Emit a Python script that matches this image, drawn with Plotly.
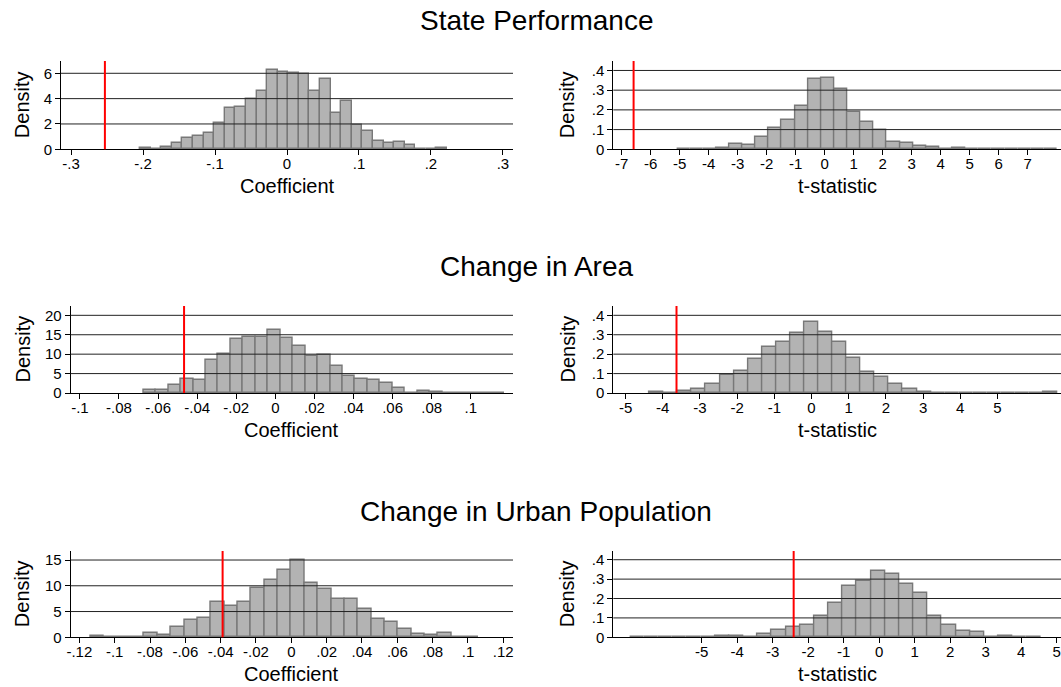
import plotly.graph_objects as go

W, H = 1061, 687

# ---------------- data ----------------
titles = ["State Performance", "Change in Area", "Change in Urban Population"]
x_titles = ["Coefficient", "t-statistic"]
y_title = "Density"

# Panel 1: State Performance, coefficient
p1_start, p1_width = -0.204, 0.0147
p1_dens = [0.08, 0, 0.2, 0.5, 0.9, 1.07, 1.28, 2.05, 3.28, 3.36, 4.0, 4.59, 6.24, 6.08,
           6.0, 5.95, 4.64, 5.52, 2.85, 3.84, 1.95, 1.41, 0.69, 0.48, 0.56, 0.32, 0, 0, 0.08]
p1_obs = -0.253
p1_xticks = [-0.3, -0.2, -0.1, 0, 0.1, 0.2, 0.3]
p1_xlabels = ["-.3", "-.2", "-.1", "0", ".1", ".2", ".3"]
p1_yticks = [0, 2, 4, 6]
p1_ylabels = ["0", "2", "4", "6"]

# Panel 2: State Performance, t-statistic
p2_start, p2_width = -5.10, 0.4525
p2_dens = [0.003, 0.003, 0.003, 0.005, 0.026, 0.021, 0.062, 0.108, 0.149, 0.221, 0.356,
           0.364, 0.308, 0.190, 0.138, 0.097, 0.036, 0.034, 0.015, 0.010, 0.003, 0.005,
           0.002, 0, 0, 0, 0, 0, 0.003]
p2_obs = -6.59
p2_xticks = [-7, -6, -5, -4, -3, -2, -1, 0, 1, 2, 3, 4, 5, 6, 7]
p2_xlabels = [str(v) for v in p2_xticks]
p2_yticks = [0, 0.1, 0.2, 0.3, 0.4]
p2_ylabels = ["0", ".1", ".2", ".3", ".4"]

# Panel 3: Change in Area, coefficient
p3_start, p3_width = -0.0675, 0.006373
p3_dens = [0.77, 0.69, 2.15, 3.5, 3.26, 8.4, 9.96, 13.8, 14.3, 14.3, 16.3, 14.25, 12.0,
           9.6, 9.7, 6.87, 4.29, 3.52, 3.26, 2.49, 1.37, 0, 0.4, 0.15, 0.1, 0.05, 0.05,
           0.1, 0.1]
p3_obs = -0.0467
p3_xticks = [-0.1, -0.08, -0.06, -0.04, -0.02, 0, 0.02, 0.04, 0.06, 0.08, 0.1]
p3_xlabels = ["-.1", "-.08", "-.06", "-.04", "-.02", "0", ".02", ".04", ".06", ".08", ".1"]
p3_yticks = [0, 5, 10, 15, 20]
p3_ylabels = ["0", "5", "10", "15", "20"]

# Panel 4: Change in Area, t-statistic
p4_start, p4_width = -4.358, 0.3785
p4_dens = [0.005, 0, 0.009, 0.019, 0.045, 0.093, 0.113, 0.175, 0.235, 0.261, 0.307,
           0.366, 0.312, 0.261, 0.179, 0.108, 0.081, 0.045, 0.019, 0.003, 0.002, 0.002,
           0.002, 0, 0, 0, 0, 0, 0.003]
p4_obs = -3.63
p4_xticks = [-5, -4, -3, -2, -1, 0, 1, 2, 3, 4, 5]
p4_xlabels = [str(v) for v in p4_xticks]
p4_yticks = [0, 0.1, 0.2, 0.3, 0.4]
p4_ylabels = ["0", ".1", ".2", ".3", ".4"]

# Panel 5: Change in Urban Population, coefficient
p5_start, p5_width = -0.1136, 0.007566
p5_dens = [0.2, 0, 0, 0, 0.78, 0.52, 2.07, 3.3, 3.68, 6.92, 6.0, 6.85, 9.63, 11.05, 13.12,
           14.93, 10.47, 9.44, 7.37, 7.37, 5.43, 3.62, 2.91, 1.68, 0.65, 0.45, 0.78, 0, 0.06]
p5_obs = -0.0389
p5_xticks = [-0.12, -0.1, -0.08, -0.06, -0.04, -0.02, 0, 0.02, 0.04, 0.06, 0.08, 0.1, 0.12]
p5_xlabels = ["-.12", "-.1", "-.08", "-.06", "-.04", "-.02", "0", ".02", ".04", ".06",
              ".08", ".1", ".12"]
p5_yticks = [0, 5, 10, 15]
p5_ylabels = ["0", "5", "10", "15"]

# Panel 6: Change in Urban Population, t-statistic
p6_start, p6_width = -7.02, 0.399
p6_dens = [0.002, 0, 0, 0.002, 0, 0, 0.005, 0.005, 0, 0.015, 0.036, 0.052, 0.062, 0.112,
           0.175, 0.263, 0.292, 0.340, 0.324, 0.276, 0.230, 0.108, 0.062, 0.031, 0.026, 0,
           0.005, 0, 0.002]
p6_obs = -2.41
p6_xticks = [-5, -4, -3, -2, -1, 0, 1, 2, 3, 4, 5]
p6_xlabels = [str(v) for v in p6_xticks]
p6_yticks = [0, 0.1, 0.2, 0.3, 0.4]
p6_ylabels = ["0", ".1", ".2", ".3", ".4"]

# ---------------- layout geometry (pixels) ----------------
panels = [
    dict(start=p1_start, width=p1_width, dens=p1_dens, obs=p1_obs, xt=p1_xticks, xl=p1_xlabels,
         yt=p1_yticks, yl=p1_ylabels, xr=[-0.314, 0.314], yr=[0, 6.97], px=(61, 513), py=(61, 149.3), xtitle=0),
    dict(start=p2_start, width=p2_width, dens=p2_dens, obs=p2_obs, xt=p2_xticks, xl=p2_xlabels,
         yt=p2_yticks, yl=p2_ylabels, xr=[-7.29, 8.15], yr=[0, 0.448], px=(613.3, 1061), py=(61, 149.3), xtitle=1),
    dict(start=p3_start, width=p3_width, dens=p3_dens, obs=p3_obs, xt=p3_xticks, xl=p3_xlabels,
         yt=p3_yticks, yl=p3_ylabels, xr=[-0.1047, 0.1216], yr=[0, 22.4], px=(70.7, 513), py=(306, 393), xtitle=0),
    dict(start=p4_start, width=p4_width, dens=p4_dens, obs=p4_obs, xt=p4_xticks, xl=p4_xlabels,
         yt=p4_yticks, yl=p4_ylabels, xr=[-5.33, 6.71], yr=[0, 0.448], px=(613.3, 1061), py=(306, 393), xtitle=1),
    dict(start=p5_start, width=p5_width, dens=p5_dens, obs=p5_obs, xt=p5_xticks, xl=p5_xlabels,
         yt=p5_yticks, yl=p5_ylabels, xr=[-0.1249, 0.1255], yr=[0, 16.75], px=(70.7, 513), py=(551, 637.3), xtitle=0),
    dict(start=p6_start, width=p6_width, dens=p6_dens, obs=p6_obs, xt=p6_xticks, xl=p6_xlabels,
         yt=p6_yticks, yl=p6_ylabels, xr=[-7.49, 5.12], yr=[0, 0.445], px=(613.3, 1061), py=(551, 637.3), xtitle=1),
]

FONT = "Liberation Sans, Arial, sans-serif"
BAR_FILL = "#b3b3b3"
BAR_EDGE = "#787878"
GRID = "#222222"

fig = go.Figure()
layout = dict(
    width=W, height=H, autosize=False, margin=dict(l=0, r=0, t=0, b=0, pad=0, autoexpand=False),
    paper_bgcolor="white", plot_bgcolor="white", showlegend=False,
    font=dict(family=FONT, color="black"), bargap=0,
)
shapes = []
annotations = []

for i, p in enumerate(panels, start=1):
    sx = "" if i == 1 else str(i)
    centers = [p["start"] + p["width"] * (k + 0.5) for k in range(len(p["dens"]))]
    fig.add_trace(go.Bar(
        x=centers, y=p["dens"], width=[p["width"]] * len(p["dens"]),
        marker=dict(color=BAR_FILL, line=dict(color=BAR_EDGE, width=1.4)),
        xaxis="x" + sx, yaxis="y" + sx, hoverinfo="x+y",
    ))
    x0, x1 = p["px"]
    y0, y1 = p["py"]
    layout["xaxis" + sx] = dict(
        domain=[x0 / W, x1 / W], range=p["xr"], anchor="y" + sx, automargin=False,
        tickmode="array", tickvals=p["xt"], ticktext=p["xl"],
        ticks="outside", ticklen=5, tickwidth=1, tickcolor="black", ticklabelstandoff=-4,
        showline=True, linecolor="black", linewidth=1, showgrid=False, zeroline=False,
        tickfont=dict(size=15, family=FONT, color="black"), fixedrange=True,
    )
    layout["yaxis" + sx] = dict(
        domain=[1 - y1 / H, 1 - y0 / H], range=p["yr"], anchor="x" + sx, automargin=False,
        tickmode="array", tickvals=p["yt"], ticktext=p["yl"],
        ticks="outside", ticklen=5, tickwidth=1, tickcolor="black",
        showline=True, linecolor="black", linewidth=1, showgrid=False, zeroline=False,
        tickfont=dict(size=15, family=FONT, color="black"), fixedrange=True,
    )
    # horizontal grid lines drawn above the bars
    for t in p["yt"]:
        if t == 0:
            continue
        shapes.append(dict(type="line", xref="x" + sx + " domain", yref="y" + sx,
                           x0=0, x1=1, y0=t, y1=t, layer="above",
                           line=dict(color=GRID, width=1)))
    # observed value (red vertical line)
    shapes.append(dict(type="line", xref="x" + sx, yref="y" + sx + " domain",
                       x0=p["obs"], x1=p["obs"], y0=0, y1=1, layer="above",
                       line=dict(color="#ff0000", width=2)))
    # axis titles
    annotations.append(dict(text=x_titles[p["xtitle"]], xref="paper", yref="paper",
                            x=(x0 + x1) / 2 / W, y=1 - (y1 + 37) / H,
                            xanchor="center", yanchor="middle", showarrow=False,
                            font=dict(size=20, family=FONT, color="black")))
    annotations.append(dict(text=y_title, xref="paper", yref="paper",
                            x=(22 if x0 < 300 else 567) / W, y=1 - (y0 + y1) / 2 / H,
                            xanchor="center", yanchor="middle", textangle=-90, showarrow=False,
                            font=dict(size=20, family=FONT, color="black")))

for t, yc in zip(titles, [21, 266, 511]):
    annotations.append(dict(text=t, xref="paper", yref="paper", x=536 / W, y=1 - yc / H,
                            xanchor="center", yanchor="middle", showarrow=False,
                            font=dict(size=28, family=FONT, color="black")))

layout["shapes"] = shapes
layout["annotations"] = annotations
fig.update_layout(**layout)
fig.write_html("out.html")
